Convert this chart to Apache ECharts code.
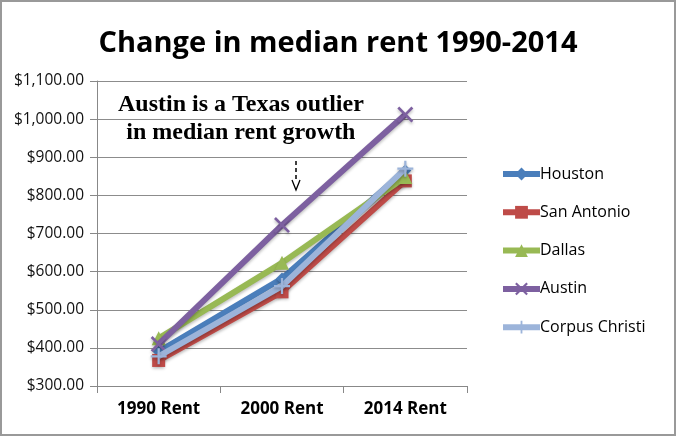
<!DOCTYPE html>
<html><head><meta charset="utf-8">
<script src="https://cdn.jsdelivr.net/npm/echarts@6/dist/echarts.min.js"></script>
<style>html,body{margin:0;padding:0;background:#fff}#c{width:676px;height:436px}</style>
</head><body><div id="c"></div>
<script>
const categories = ['1990 Rent', '2000 Rent', '2014 Rent'];
const houston = [390, 582, 865];
const sanAntonio = [367, 547, 838];
const dallas = [425, 623, 848];
const austin = [410, 722, 1012];
const corpusChristi = [378, 562, 870];
const seriesNames = ['Houston', 'San Antonio', 'Dallas', 'Austin', 'Corpus Christi'];
const seriesColors = ['#4A7EBB', '#BE4B48', '#98B954', '#7D60A0', '#9CB4DA'];
const annotationLines = ['Austin is a Texas outlier', 'in median rent growth'];

const xPath = 'path://M0,1.2L1.2,0L5,3.8L8.8,0L10,1.2L6.2,5L10,8.8L8.8,10L5,6.2L1.2,10L0,8.8L3.8,5Z';
const plusPath = 'path://M4.3,0H5.7V4.3H10V5.7H5.7V10H4.3V5.7H0V4.3H4.3Z';
const symbols = ['diamond', 'rect', 'triangle', xPath, plusPath];
const symbolSizes = [12, 13, 14, 16, 16];
const allData = [houston, sanAntonio, dallas, austin, corpusChristi];

const chart = echarts.init(document.getElementById('c'));
chart.setOption({
  animation: false,
  backgroundColor: '#fff',
  title: {
    text: 'Change in median rent 1990-2014',
    left: 'center', top: 24,
    textStyle: { fontFamily: 'Open Sans', fontWeight: 'bold', fontSize: 29, color: '#000' }
  },
  grid: { left: 97, right: 209, top: 81, bottom: 50 },
  legend: {
    orient: 'vertical', left: 495, top: 161, itemGap: 22.3,
    itemWidth: 37, itemHeight: 16,
    lineStyle: { width: 6 },
    textStyle: { fontFamily: 'Open Sans', fontSize: 16, color: '#000', padding: [0,0,0,-5] },
    data: seriesNames
  },
  xAxis: {
    type: 'category', data: categories, boundaryGap: true,
    axisLine: { lineStyle: { color: '#888', width: 1 } },
    axisTick: { show: true, length: 7, lineStyle: { color: '#888' } },
    axisLabel: { fontFamily: 'Open Sans', fontWeight: 'bold', fontSize: 17, color: '#000', margin: 15 }
  },
  yAxis: {
    type: 'value', min: 300, max: 1100, interval: 100,
    axisLine: { show: true, lineStyle: { color: '#888', width: 1 } },
    axisTick: { show: true, length: 7, inside: false, lineStyle: { color: '#888' } },
    splitLine: { lineStyle: { color: '#8c8c8c', width: 1 } },
    axisLabel: {
      fontFamily: 'Open Sans', fontSize: 15.5, color: '#111', margin: 13,
      formatter: v => '$' + v.toLocaleString('en-US') + '.00'
    }
  },
  series: allData.map((d, i) => ({
    name: seriesNames[i], type: 'line', data: d,
    symbol: symbols[i], symbolSize: symbolSizes[i], showAllSymbol: true,
    lineStyle: { color: seriesColors[i], width: 6, shadowBlur: 3, shadowColor: 'rgba(0,0,0,0.25)', shadowOffsetY: 2 },
    itemStyle: { color: seriesColors[i], borderWidth: 0, shadowBlur: 3, shadowColor: 'rgba(0,0,0,0.25)', shadowOffsetY: 2 },
    z: 2 + i
  })),
  graphic: [
    { type: 'rect', shape: { x: 1, y: 1, width: 674, height: 434 }, style: { fill: 'none', stroke: '#999', lineWidth: 2 }, silent: true },
    { type: 'text', left: 118, top: 91, style: { text: annotationLines.join('\n'), textAlign: 'center', font: 'bold 24px "Liberation Serif"', fill: '#000', lineHeight: 28, x: 126 } },
    { type: 'line', shape: { x1: 296, y1: 161, x2: 296, y2: 180 }, style: { stroke: '#000', lineWidth: 1.5, lineDash: [4, 3] } },
    { type: 'polyline', shape: { points: [[292, 180], [296, 190], [300, 180]] }, style: { stroke: '#000', lineWidth: 1.3, fill: 'none' } }
  ]
});
</script></body></html>
